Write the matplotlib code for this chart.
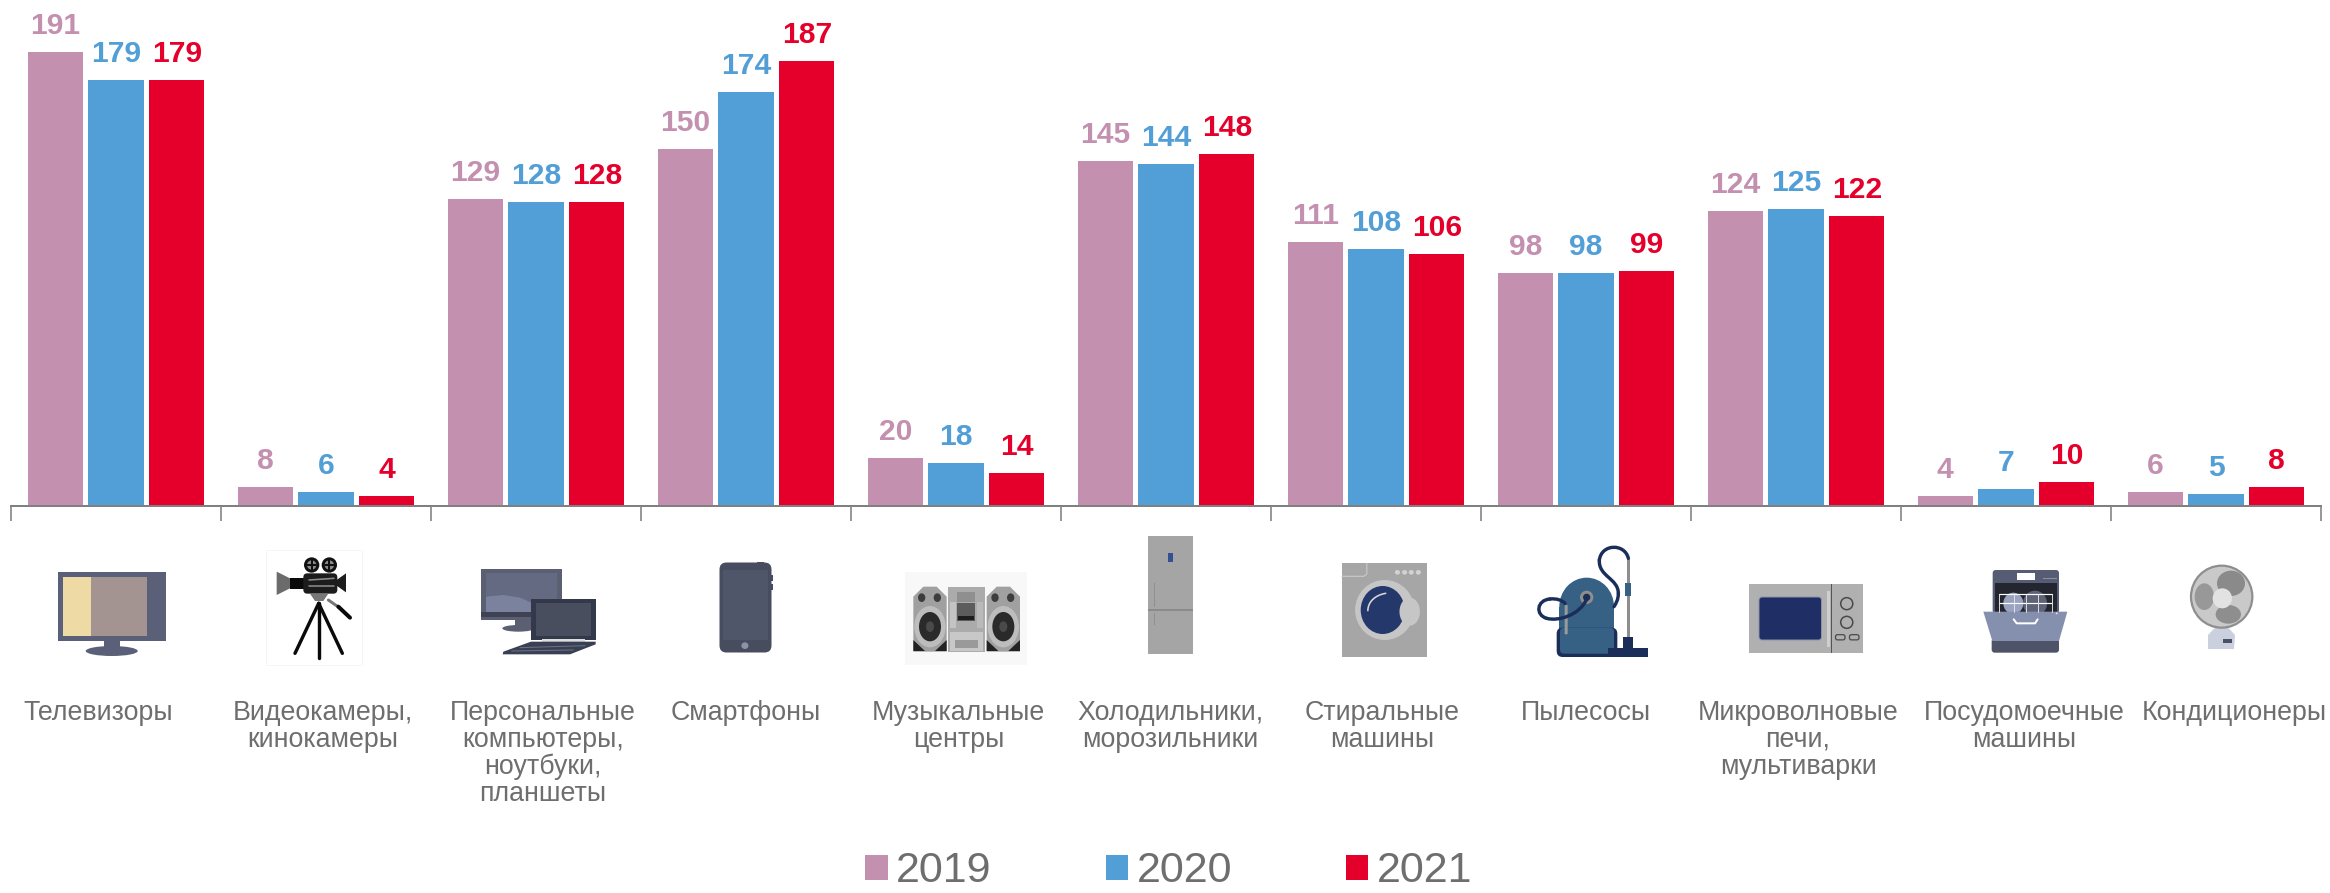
import matplotlib
matplotlib.use("Agg")
import matplotlib.pyplot as plt
import numpy as np
from matplotlib.patches import Rectangle, Ellipse, Polygon, FancyBboxPatch, PathPatch
from matplotlib.path import Path

plt.rcParams['font.family'] = ['Liberation Sans', 'DejaVu Sans']

categories = ["Телевизоры", "Видеокамеры,\nкинокамеры", "Персональные\nкомпьютеры,\nноутбуки,\nпланшеты",
              "Смартфоны", "Музыкальные\nцентры", "Холодильники,\nморозильники", "Стиральные\nмашины",
              "Пылесосы", "Микроволновые\nпечи,\nмультиварки", "Посудомоечные\nмашины", "Кондиционеры"]
years = ["2019", "2020", "2021"]
v2019 = [191, 8, 129, 150, 20, 145, 111, 98, 124, 4, 6]
v2020 = [179, 6, 128, 174, 18, 144, 108, 98, 125, 7, 5]
v2021 = [179, 4, 128, 187, 14, 148, 106, 99, 122, 10, 8]
series = [v2019, v2020, v2021]
colors = ["#C490B0", "#529FD7", "#E4002B"]

W, H = 2330, 893
GRAY = "#808080"
TXT = "#6E6E6E"
PX = 0.72  # points per pixel at dpi 100

fig = plt.figure(figsize=(W / 100, H / 100), dpi=100, facecolor="white")
ax = fig.add_axes([11 / W, (H - 506) / H, 2310 / W, 506 / H])
ax.set_xlim(0, 11)
ax.set_ylim(0, 506 / 2.378)
ax.patch.set_alpha(0)

step, width = 0.2895, 0.2633
x = np.arange(len(categories)) + 0.5
handles = []
for i, (vals, c, y) in enumerate(zip(series, colors, years)):
    pos = x + (i - 1) * step
    b = ax.bar(pos, vals, width=width, color=c, label=y, zorder=2)
    handles.append(b)
    for p, v in zip(pos, vals):
        ax.annotate(str(v), (p, v), xytext=(0, 18 * PX), textcoords="offset points",
                    ha="center", va="baseline", color=c, fontsize=30 * PX, fontweight="bold",
                    annotation_clip=False)

for s in ["top", "left", "right"]:
    ax.spines[s].set_visible(False)
ax.spines["bottom"].set_color(GRAY)
ax.spines["bottom"].set_linewidth(2 * PX)
ax.set_yticks([])
ax.set_xticks(np.arange(0, 12))
ax.set_xticklabels([])
ax.tick_params(axis="x", length=15 * PX, width=1.6 * PX, color=GRAY)

# overlay in image pixels for captions and pictograms
ov = fig.add_axes([0, 0, 1, 1], zorder=-1)
ov.set_xlim(0, W)
ov.set_ylim(H, 0)
ov.axis("off")

label_x = [97.7, 322.6, 543, 746, 958.7, 1170, 1382, 1585.6, 1798, 2024.6, 2234]
for lx, lab in zip(label_x, categories):
    ov.text(lx, 700, lab, ha="center", va="top", color=TXT, fontsize=26.7 * PX,
            linespacing=1.05)

fig.legend(handles=handles, labels=years, loc="lower left", bbox_to_anchor=(861 / W, -0.003),
           ncol=3, frameon=False, fontsize=43 * PX, labelcolor=TXT,
           handlelength=0.52, handleheight=0.52, handletextpad=0.2, columnspacing=2.65,
           borderpad=0.1, borderaxespad=0.0)


class Ic:
    """Draw in crop coordinates: origin plus scale factors."""
    def __init__(self, x0, y0, sx=3.0, sy=3.0):
        self.x0, self.y0, self.sx, self.sy = x0, y0, sx, sy
    def p(self, x, y):
        return (self.x0 + x / self.sx, self.y0 + y / self.sy)
    def rect(self, x1, y1, x2, y2, c, r=0, **k):
        a, b = self.p(x1, y1), self.p(x2, y2)
        if r:
            ov.add_patch(FancyBboxPatch((a[0] + r, a[1] + r), b[0] - a[0] - 2 * r, b[1] - a[1] - 2 * r,
                                        boxstyle=f"round,pad={r},rounding_size={r}", fc=c, ec="none", **k))
        else:
            ov.add_patch(Rectangle(a, b[0] - a[0], b[1] - a[1], fc=c, ec="none", **k))
    def ell(self, cx, cy, rx, ry, c, **k):
        k.setdefault("ec", "none")
        ov.add_patch(Ellipse(self.p(cx, cy), 2 * rx / self.sx, 2 * ry / self.sy, fc=c, **k))
    def poly(self, pts, c):
        ov.add_patch(Polygon([self.p(*q) for q in pts], closed=True, fc=c, ec="none"))
    def line(self, pts, c, lw, cap="round"):
        xy = np.array([self.p(*q) for q in pts])
        ov.plot(xy[:, 0], xy[:, 1], color=c, lw=lw * PX, solid_capstyle=cap)
    def curve(self, verts, c, lw):
        codes = [Path.MOVETO] + [Path.CURVE4] * (len(verts) - 1)
        ov.add_patch(PathPatch(Path([self.p(*q) for q in verts], codes), fc="none", ec=c,
                               lw=lw * PX, capstyle="round"))


# television
t = Ic(0, 500, 1.96, 3.0)
t.rect(113, 217, 326, 422, "#5A6077")
t.rect(123, 232, 288, 408, "#A39391")
t.rect(123, 232, 178, 408, "#EEDAA5")
t.rect(204, 422, 236, 445, "#5A6077")
t.ell(219, 453, 51, 15, "#5A6077")

# film camera
c = Ic(260, 545)
ov.add_patch(Rectangle((266, 549.5), 96, 115.5, fc="white", ec="#F6F6F6", lw=0.7))
c.poly([(50, 80), (90, 100), (90, 130), (50, 150)], "#6B6B6B")
c.rect(90, 98, 132, 132, "#0A0A0A")
c.rect(130, 85, 232, 146, "#1C1C1C", r=4)
c.poly([(230, 105), (258, 85), (258, 142), (230, 122)], "#1C1C1C")
for cx in (155, 208):
    c.ell(cx, 60, 23, 23, "#111111")
    c.ell(cx, 60, 14, 14, "#8A8A8A")
    c.line([(cx - 14, 60), (cx + 14, 60)], "#111111", 2)
    c.line([(cx, 46), (cx, 74)], "#111111", 2)
    c.ell(cx, 60, 6, 6, "#3F8FA8")
c.line([(147, 105), (222, 100)], "#8A8A8A", 1.6)
c.line([(147, 122), (222, 122)], "#8A8A8A", 1.6)
c.poly([(150, 146), (205, 146), (190, 168), (165, 168)], "#777777")
c.line([(205, 165), (238, 188)], "#777777", 3)
c.line([(235, 185), (270, 218)], "#0A0A0A", 4)
for end in [(105, 325), (176, 340), (247, 325)]:
    c.line([(176, 175), end], "#0A0A0A", 3.4)

# computers
k = Ic(470, 555)
k.rect(33, 42, 275, 195, "#5A5F72")
k.rect(48, 55, 262, 172, "#636A82")
k.poly([(48, 125), (100, 120), (150, 128), (200, 150), (262, 160), (262, 172), (48, 172)], "#7A829E")
k.rect(33, 172, 275, 185, "#3E4254")
k.rect(135, 195, 185, 215, "#5A5F72")
k.ell(145, 220, 48, 10, "#5A5F72")
k.rect(183, 133, 377, 255, "#33384A")
k.rect(197, 145, 364, 243, "#494E5F")
k.rect(215, 253, 345, 260, "#DDDDDD")
k.poly([(183, 260), (377, 260), (377, 268), (300, 298), (98, 298), (100, 290)], "#3A4053")
k.line([(150, 278), (345, 272)], "#6C7287", 1)
k.line([(125, 288), (310, 285)], "#6C7287", 1)

# phone
ph = Ic(0, 500, 1.96, 3.0)
ov.add_patch(FancyBboxPatch((724, 567), 43, 81, boxstyle="round,pad=4.5,rounding_size=7",
                            fc="#474C5E", ec="none"))
ph.rect(1418, 210, 1505, 420, "#50566A")
ph.ell(1460, 437, 7, 10, "#8C93A8")
ph.rect(1484, 186, 1498, 196, "#474C5E")
ph.rect(1508, 225, 1516, 243, "#474C5E")
ph.rect(1508, 252, 1516, 270, "#474C5E")

# music centre
m = Ic(900, 565)
m.rect(15, 22, 380, 300, "#F8F8F8")
for off in (0, 220):
    m.poly([(40 + off, 95), (70 + off, 65), (110 + off, 65), (140 + off, 95), (140 + off, 260), (40 + off, 260)], "#A0A0A0")
    m.poly([(40 + off, 258), (40 + off, 225), (75 + off, 258)], "#222222")
    m.poly([(140 + off, 258), (140 + off, 225), (105 + off, 258)], "#222222")
    m.ell(90 + off, 185, 47, 62, "#BDBDBD")
    m.ell(90 + off, 185, 33, 44, "#2A2A2A")
    m.ell(90 + off, 185, 12, 16, "#4A4A4A")
    m.ell(65 + off, 98, 11, 13, "#3D3D3D")
    m.ell(112 + off, 98, 11, 13, "#3D3D3D")
m.rect(143, 65, 255, 260, "#ABABAB")
m.rect(150, 110, 168, 190, "#C4C4C4")
m.rect(230, 110, 250, 190, "#BABABA")
m.rect(172, 115, 226, 168, "#5C5C5C")
m.rect(175, 152, 222, 166, "#1E1E1E")
m.rect(172, 80, 226, 110, "#8F8F8F")
m.rect(150, 200, 250, 258, "#C8C8C8")
m.rect(165, 225, 235, 250, "#9A9A9A")

# refrigerator
f = Ic(800, 500, 1.96, 3.0)
f.rect(683, 107, 770, 463, "#A5A5A5")
f.rect(683, 326, 770, 333, "#8A8A8A")
f.rect(722, 160, 732, 186, "#33508F")
f.rect(693, 250, 696, 320, "#8F8F8F")
f.rect(693, 340, 696, 375, "#8F8F8F")

# washing machine
w = Ic(800, 500, 1.96, 3.0)
w.rect(1062, 190, 1229, 470, "#A6A6A6")
w.line([(1062, 229), (1105, 229), (1111, 222), (1111, 190)], "#C8C8C8", 1.2)
w.ell(1146, 330, 58, 90, "#C6C6C6")
w.ell(1142, 330, 43, 72, "#25386B")
w.ell(1195, 335, 20, 42, "#C6C6C6")
w.curve([(1113, 332), (1113, 305), (1128, 285), (1148, 280)], "#D8D8D8", 1.6)
for dx in (1171, 1185, 1198, 1212):
    w.ell(dx, 217, 5, 7, "#D2D2D2")

# vacuum cleaner
NAVY = "#1B2E59"
BLUE = "#366185"
v = Ic(1530, 535)
v.ell(170, 215, 82, 87, BLUE)
v.rect(88, 215, 252, 300, BLUE)
v.rect(80, 278, 262, 366, NAVY, r=6)
v.rect(90, 278, 252, 356, BLUE, r=4)
v.rect(104, 210, 113, 298, "#9A9A9A", r=1)
v.ell(170, 187, 20, 20, "#8E8E8E")
v.ell(170, 187, 11, 11, NAVY)
v.curve([(170, 192), (150, 240), (85, 260), (50, 250)], NAVY, 3.4)
v.curve([(50, 250), (15, 240), (20, 195), (60, 192)], NAVY, 3.4)
v.curve([(60, 192), (80, 190), (95, 195), (105, 205)], NAVY, 3.4)
v.rect(290, 72, 301, 310, "#8E8E8E")
v.rect(285, 145, 303, 183, BLUE)
v.curve([(295, 70), (285, 25), (215, 25), (208, 75)], NAVY, 3.4)
v.curve([(208, 75), (205, 125), (265, 130), (265, 175)], NAVY, 3.4)
v.curve([(265, 175), (265, 195), (258, 205), (252, 215)], NAVY, 3.4)
v.rect(280, 305, 310, 350, NAVY)
v.rect(235, 340, 355, 366, NAVY)

# microwave
mw = Ic(1600, 500, 2.148, 3.0)
mw.rect(320, 252, 564, 460, "#B0B0B0")
ov.add_patch(FancyBboxPatch((1761, 599), 58.5, 39, boxstyle="round,pad=2,rounding_size=3",
                            fc="#1F2F66", ec="#8F94A8", lw=0.7))
mw.rect(487, 272, 493, 440, "#CFCFCF")
mw.rect(496, 252, 499, 460, "#555555")
for cy in (311, 367):
    mw.ell(530, cy, 13, 18, "#B0B0B0", ec="#4A4A4A", lw=1.1)
for cx in (516, 546):
    ov.add_patch(FancyBboxPatch(mw.p(cx - 8, 407), 7.5, 3.2, boxstyle="round,pad=1,rounding_size=2",
                                fc="#B0B0B0", ec="#4A4A4A", lw=0.9))

# dishwasher
d = Ic(1975, 560)
d.rect(53, 30, 252, 160, "#565C73", r=3)
d.rect(125, 40, 180, 60, "#FFFFFF")
d.rect(205, 54, 245, 58, "#8C90A0")
d.rect(60, 70, 246, 158, "#24262F")
d.ell(115, 130, 30, 32, "#9AA3BF")
d.ell(180, 130, 36, 38, "#5F6378")
d.line([(72, 103), (230, 103)], "#FFFFFF", 1.2)
d.line([(72, 128), (230, 128)], "#FFFFFF", 1.2)
for vx in (72, 118, 152, 190, 230):
    d.line([(vx, 103), (vx, 155)], "#E6E6E6", 0.9)
d.rect(50, 235, 252, 278, "#4E5368", r=3)
d.poly([(25, 155), (277, 155), (252, 243), (52, 243)], "#8490AE")
d.line([(116, 178), (125, 190), (180, 190), (188, 178)], "#FFFFFF", 2)
d.ell(245, 160, 3, 3, "#DDE0EA")

# fan
a = Ic(2180, 555)
a.rect(120, 200, 132, 225, "#C8C8C8")
a.poly([(84, 240), (108, 215), (142, 215), (165, 240), (162, 282), (84, 282)], "#CBD0DE")
a.rect(128, 253, 155, 265, "#4A5068")
a.ell(125, 125, 92, 93, "#C9C9C9", ec="#8E8E8E", lw=1.6)
a.ell(153, 85, 42, 38, "#8A8A8A")
a.ell(73, 125, 29, 40, "#989898")
a.ell(145, 178, 38, 28, "#8E8E8E")
a.ell(127, 130, 29, 30, "#E2E2E2")

fig.savefig("out.png", dpi=100, facecolor="white")
